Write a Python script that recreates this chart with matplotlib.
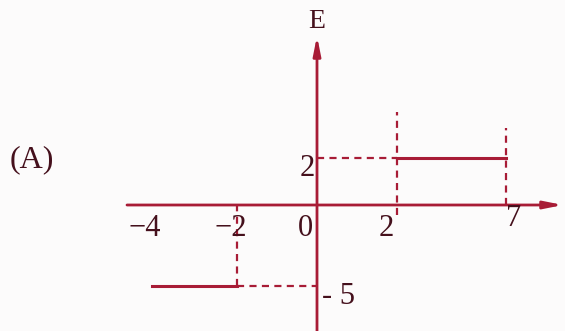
import numpy as np
import matplotlib
matplotlib.use('Agg')
import matplotlib.pyplot as plt

# data
x_marks = [-4, -2, 0, 2, 7]
x_labels = ['\u22124', '\u22122', '0', '2', '7']
seg_start = [-4, 2]
seg_end = [-2, 7]
seg_E = [-5, 2]
E_marks = [2, -5]
E_labels = ['2', '- 5']

# the sketch is not drawn to scale: piecewise-linear scales
x_ref = [-4, -2, 0, 2, 7]
x_px = [152, 237, 317, 397, 506]
y_ref = [-5, 0, 2]
y_px = [-286, -205, -158]


def piecewise(src, dst):
    src = np.asarray(src, float)
    dst = np.asarray(dst, float)

    def f(v):
        v = np.asarray(v, float)
        out = np.interp(v, src, dst)
        lo = (dst[1] - dst[0]) / (src[1] - src[0])
        hi = (dst[-1] - dst[-2]) / (src[-1] - src[-2])
        out = np.where(v < src[0], dst[0] + (v - src[0]) * lo, out)
        out = np.where(v > src[-1], dst[-1] + (v - src[-1]) * hi, out)
        return out
    return f


fx, ix = piecewise(x_ref, x_px), piecewise(x_px, x_ref)
fy, iy = piecewise(y_ref, y_px), piecewise(y_px, y_ref)

plt.rcParams['font.family'] = ['Liberation Serif', 'DejaVu Serif']
line_c = '#a81c36'
text_c = '#45101c'

fig = plt.figure(figsize=(5.65, 3.31), dpi=100)
fig.patch.set_facecolor('#fcfbfb')
ax = fig.add_axes([0, 0, 1, 1])
ax.set_xscale('function', functions=(fx, ix))
ax.set_yscale('function', functions=(fy, iy))
ax.set_xlim(float(ix(0)), float(ix(565)))
ax.set_ylim(float(iy(-331)), float(iy(0)))
ax.axis('off')

# axes with arrows
x_left = float(ix(127))
x_right = float(ix(563))
ax.annotate('', xy=(x_right, 0), xytext=(x_left, 0),
            arrowprops=dict(arrowstyle='-|>,head_length=1.1,head_width=0.22',
                            color=line_c, lw=2, shrinkA=0, shrinkB=0))
ax.annotate('', xy=(0, float(iy(-36))), xytext=(0, float(iy(-331))),
            arrowprops=dict(arrowstyle='-|>,head_length=1.1,head_width=0.22',
                            color=line_c, lw=2, shrinkA=0, shrinkB=0))
ax.text(0, float(iy(-21)), 'E', ha='center', va='center', fontsize=20, color=text_c)

# field segments
for a, b, e in zip(seg_start, seg_end, seg_E):
    ax.plot([a, b], [e, e], color=line_c, lw=2.2)

# guide lines
dash = dict(color=line_c, lw=1.6, ls=(0, (3.2, 2.4)))
ax.plot([0, seg_start[1]], [seg_E[1], seg_E[1]], **dash)
ax.plot([seg_start[1], seg_start[1]], [float(iy(-215)), float(iy(-112))], **dash)
ax.plot([seg_end[1], seg_end[1]], [0, float(iy(-128))], **dash)
ax.plot([seg_end[0], 0], [seg_E[0], seg_E[0]], **dash)
ax.plot([seg_end[0], seg_end[0]], [seg_E[0], 0], **dash)

# tick labels
lab_y = float(iy(-228))
for xv, lab in zip(x_marks, x_labels):
    dx = {-4: -7, -2: -6, 0: -12, 2: -11, 7: 8}[xv]
    yy = float(iy(-219)) if xv == 7 else lab_y
    ax.text(float(ix(fx(xv) + dx)), yy, lab, ha='center', va='center',
            fontsize=22, color=text_c)
ax.text(float(ix(fx(0) - 10)), float(iy(-168)), E_labels[0], ha='center',
        va='center', fontsize=22, color=text_c)
ax.text(float(ix(fx(0) + 21)), float(iy(-297)), E_labels[1], ha='center',
        va='center', fontsize=22, color=text_c)

ax.text(float(ix(32)), float(iy(-160)), '(A)', ha='center', va='center',
        fontsize=23, color=text_c)

fig.savefig('out.png', dpi=100, facecolor=fig.get_facecolor())
